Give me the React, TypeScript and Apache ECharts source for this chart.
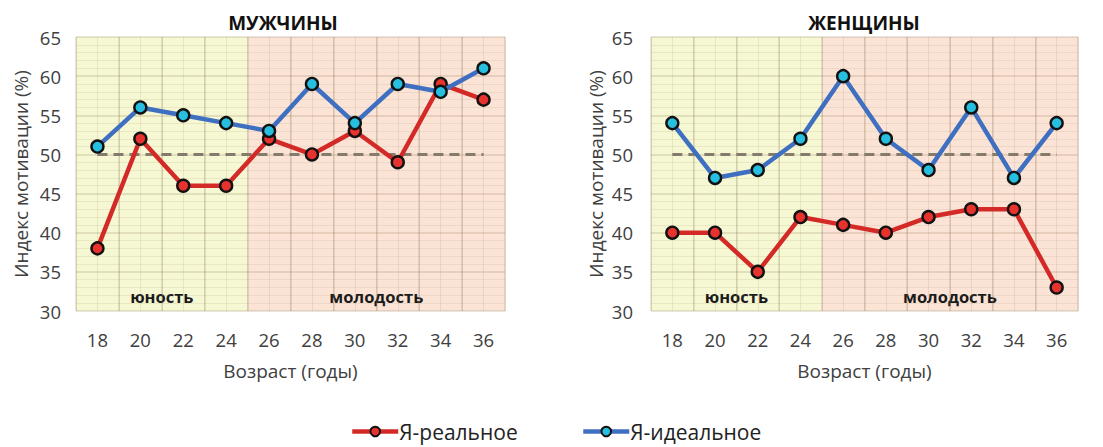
import React, { useEffect, useRef } from "react";
import * as echarts from "echarts";

const ages = ["18", "20", "22", "24", "26", "28", "30", "32", "34", "36"];
const menReal = [38, 52, 46, 46, 52, 50, 53, 49, 59, 57];
const menIdeal = [51, 56, 55, 54, 53, 59, 54, 59, 58, 61];
const womenReal = [40, 40, 35, 42, 41, 40, 42, 43, 43, 33];
const womenIdeal = [54, 47, 48, 52, 60, 52, 48, 56, 47, 54];
const reference = [50, 50, 50, 50, 50, 50, 50, 50, 50, 50];
const titles = ["МУЖЧИНЫ", "ЖЕНЩИНЫ"];
const periods = [
  { name: "юность", from: 17, to: 25 },
  { name: "молодость", from: 25, to: 37 },
];
const seriesNames = ["Я-реальное", "Я-идеальное"];

const FONT = "'Open Sans', 'Noto Sans', sans-serif";
const RED = "#d42a27";
const RED_FILL = "#e8322e";
const BLUE = "#3f6fc0";
const BLUE_FILL = "#27bfe0";
const BG = ["#f6f8d3", "#fbe4d6"];

export default function App() {
  const ref = useRef<HTMLDivElement>(null);
  useEffect(() => {
    document.body.style.margin = "0";
    const chart = echarts.init(ref.current!, null, { renderer: "svg" });
    const grids = [
      { left: 76, width: 429, top: 37, bottom: 136 },
      { left: 651, width: 427, top: 37, bottom: 136 },
    ];
    const labelMargins = [15, 18];
    const xAxis: any[] = [];
    const yAxis: any[] = [];
    const series: any[] = [];
    const data = [
      [menReal, menIdeal],
      [womenReal, womenIdeal],
    ];
    grids.forEach((g, i) => {
      xAxis.push({
        type: "category",
        gridIndex: i,
        data: ages,
        boundaryGap: true,
        axisLine: { show: false },
        axisTick: { show: false },
        axisLabel: { color: "#404040", fontSize: 18.5, fontFamily: FONT, margin: 19 },
        splitLine: { show: true, lineStyle: { color: "rgba(130,110,70,0.24)", width: 1.5 } },
        name: "Возраст (годы)",
        nameLocation: "middle",
        nameGap: 50,
        nameTextStyle: { color: "#404040", fontSize: 19, fontFamily: FONT },
        z: 1,
      });
      xAxis.push({
        type: "value",
        gridIndex: i,
        min: 17,
        max: 37,
        interval: 1,
        show: true,
        axisLine: { show: false },
        axisTick: { show: false },
        axisLabel: { show: false },
        splitLine: { show: true, lineStyle: { color: "rgba(130,110,70,0.13)", width: 1 } },
        z: 0,
      });
      yAxis.push({
        type: "value",
        gridIndex: i,
        min: 30,
        max: 65,
        interval: 5,
        axisLine: { show: false },
        axisTick: { show: false },
        axisLabel: { color: "#404040", fontSize: 18.5, fontFamily: FONT, margin: labelMargins[i] },
        splitLine: { show: true, lineStyle: { color: "rgba(130,110,70,0.24)", width: 1.5 } },
        minorTick: { show: false, splitNumber: 5 },
        minorSplitLine: { show: true, lineStyle: { color: "rgba(130,110,70,0.11)", width: 1 } },
        name: "Индекс мотивации (%)",
        nameLocation: "middle",
        nameGap: 46,
        nameTextStyle: { color: "#404040", fontSize: 19, fontFamily: FONT },
        z: 1,
      });
      series.push({
        type: "line",
        xAxisIndex: i * 2 + 1,
        yAxisIndex: i,
        data: [],
        silent: true,
        z: -5,
        markArea: {
          silent: true,
          z: -5,
          data: periods.map((p, k) => [
            {
              xAxis: p.from,
              yAxis: 30,
              itemStyle: { color: BG[k] },
              label: {
                show: true,
                position: "insideBottom",
                distance: 6,
                formatter: p.name,
                color: "#1a1a1a",
                fontWeight: "bold",
                fontSize: 16.5,
                fontFamily: FONT,
              },
            },
            { xAxis: p.to, yAxis: 65 },
          ]),
        },
      });
      series.push({
        type: "line",
        xAxisIndex: i * 2,
        yAxisIndex: i,
        data: reference,
        symbol: "none",
        silent: true,
        lineStyle: { color: "#857b6c", width: 3, type: [10, 6] },
        z: 3,
      });
      series.push({
        name: seriesNames[0],
        type: "line",
        xAxisIndex: i * 2,
        yAxisIndex: i,
        data: data[i][0],
        symbol: "circle",
        symbolSize: 12,
        lineStyle: { color: RED, width: 4.5 },
        itemStyle: { color: RED_FILL, borderColor: "#111", borderWidth: 2.4 },
        z: 4,
      });
      series.push({
        name: seriesNames[1],
        type: "line",
        xAxisIndex: i * 2,
        yAxisIndex: i,
        data: data[i][1],
        symbol: "circle",
        symbolSize: 12,
        lineStyle: { color: BLUE, width: 4.5 },
        itemStyle: { color: BLUE_FILL, borderColor: "#111", borderWidth: 2.4 },
        z: 5,
      });
    });

    const legendBase = {
      bottom: 0,
      itemWidth: 46,
      itemHeight: 12,
      lineStyle: { width: 4.5 },
      textStyle: { fontSize: 21, color: "#222", fontFamily: FONT, padding: [0, 0, 0, -4] },
    };

    chart.setOption({
      animation: false,
      backgroundColor: "#fff",
      title: [
        {
          text: titles[0],
          left: 278,
          top: 8,
          textAlign: "center",
          textStyle: { fontSize: 19, fontWeight: "bold", color: "#111", fontFamily: FONT },
        },
        {
          text: titles[1],
          left: 859,
          top: 8,
          textAlign: "center",
          textStyle: { fontSize: 19, fontWeight: "bold", color: "#111", fontFamily: FONT },
        },
      ],
      legend: [
        { ...legendBase, data: [seriesNames[0]], left: 345 },
        { ...legendBase, data: [seriesNames[1]], left: 576 },
      ],
      grid: grids,
      xAxis,
      yAxis,
      series,
    });
    return () => chart.dispose();
  }, []);
  return <div ref={ref} style={{ width: 1103, height: 447 }} />;
}
